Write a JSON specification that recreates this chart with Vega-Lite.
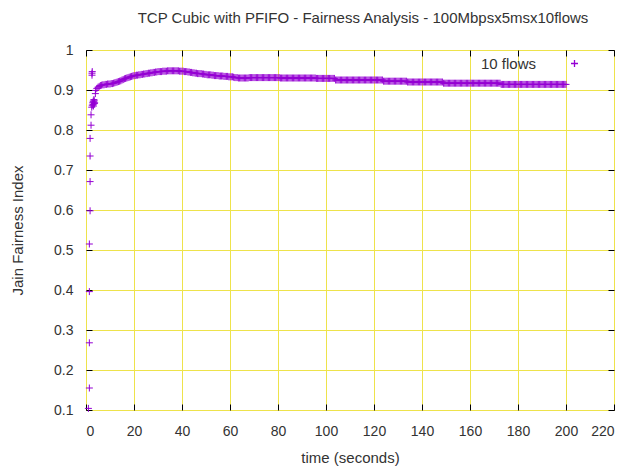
{
  "$schema": "https://vega.github.io/schema/vega-lite/v6.json",
  "width": 528,
  "height": 360,
  "autosize": {"type": "none"},
  "padding": {"left": 86, "top": 50, "right": 15, "bottom": 56},
  "background": "white",
  "config": {
    "font": "Liberation Sans",
    "view": {"stroke": "black", "strokeWidth": 1},
    "axis": {
      "domain": false,
      "labelFontSize": 14,
      "labelColor": "#333333",
      "titleFontSize": 15,
      "titleFontWeight": "normal",
      "titleColor": "#333333",
      "tickColor": "black",
      "tickSize": -6,
      "tickWidth": 1,
      "gridColor": "#eee34b",
      "gridWidth": 1,
      "gridOpacity": 1
    }
  },
  "title": {
    "text": "TCP Cubic with PFIFO - Fairness Analysis - 100Mbpsx5msx10flows",
    "fontSize": 15,
    "fontWeight": "normal",
    "color": "#333333",
    "offset": 17,
    "dx": 13
  },
  "data": {
    "values": [
      {"t": 1.0, "v": 0.104}, {"t": 1.4, "v": 0.155}, {"t": 1.4, "v": 0.268}, {"t": 1.4, "v": 0.396},
      {"t": 1.4, "v": 0.515}, {"t": 1.7, "v": 0.598}, {"t": 1.7, "v": 0.671}, {"t": 1.7, "v": 0.735},
      {"t": 1.7, "v": 0.779}, {"t": 2.1, "v": 0.812}, {"t": 2.1, "v": 0.838}, {"t": 2.4, "v": 0.857},
      {"t": 2.5, "v": 0.937}, {"t": 2.5, "v": 0.942}, {"t": 2.6, "v": 0.946}, {"t": 2.6, "v": 0.862},
      {"t": 2.8, "v": 0.868}, {"t": 3.0, "v": 0.872}, {"t": 3.0, "v": 0.864}, {"t": 3.2, "v": 0.870},
      {"t": 3.3, "v": 0.876}, {"t": 3.5, "v": 0.866}, {"t": 3.1, "v": 0.860}, {"t": 3.4, "v": 0.873},
      {"t": 3.6, "v": 0.868}, {"t": 3.9, "v": 0.891},
      {"t": 4, "v": 0.899}, {"t": 4.5, "v": 0.904}, {"t": 5, "v": 0.907}, {"t": 5.5, "v": 0.909},
      {"t": 6, "v": 0.911}, {"t": 6.5, "v": 0.912}, {"t": 7, "v": 0.913}, {"t": 7.5, "v": 0.913},
      {"t": 8, "v": 0.914}, {"t": 8.5, "v": 0.914}, {"t": 9, "v": 0.915}, {"t": 9.5, "v": 0.915},
      {"t": 10, "v": 0.915}, {"t": 10.5, "v": 0.916}, {"t": 11, "v": 0.916}, {"t": 11.5, "v": 0.917},
      {"t": 12, "v": 0.918}, {"t": 12.5, "v": 0.919}, {"t": 13, "v": 0.920}, {"t": 13.5, "v": 0.921},
      {"t": 14, "v": 0.922}, {"t": 14.5, "v": 0.923}, {"t": 15, "v": 0.925}, {"t": 15.5, "v": 0.926},
      {"t": 16, "v": 0.928}, {"t": 16.5, "v": 0.929}, {"t": 17, "v": 0.930}, {"t": 17.5, "v": 0.931},
      {"t": 18, "v": 0.932}, {"t": 18.5, "v": 0.933}, {"t": 19, "v": 0.934}, {"t": 19.5, "v": 0.935},
      {"t": 20, "v": 0.936}, {"t": 20.5, "v": 0.936}, {"t": 21, "v": 0.937}, {"t": 21.5, "v": 0.937},
      {"t": 22, "v": 0.938}, {"t": 22.5, "v": 0.938}, {"t": 23, "v": 0.939}, {"t": 23.5, "v": 0.939},
      {"t": 24, "v": 0.940}, {"t": 24.5, "v": 0.940}, {"t": 25, "v": 0.941}, {"t": 25.5, "v": 0.941},
      {"t": 26, "v": 0.942}, {"t": 26.5, "v": 0.942}, {"t": 27, "v": 0.943}, {"t": 27.5, "v": 0.943},
      {"t": 28, "v": 0.944}, {"t": 28.5, "v": 0.944}, {"t": 29, "v": 0.945}, {"t": 29.5, "v": 0.945},
      {"t": 30, "v": 0.946}, {"t": 30.5, "v": 0.946}, {"t": 31, "v": 0.946}, {"t": 31.5, "v": 0.946},
      {"t": 32, "v": 0.947}, {"t": 32.5, "v": 0.947}, {"t": 33, "v": 0.947}, {"t": 33.5, "v": 0.947},
      {"t": 34, "v": 0.948}, {"t": 34.5, "v": 0.948}, {"t": 35, "v": 0.948}, {"t": 35.5, "v": 0.948},
      {"t": 36, "v": 0.948}, {"t": 36.5, "v": 0.948}, {"t": 37, "v": 0.948}, {"t": 37.5, "v": 0.948},
      {"t": 38, "v": 0.948}, {"t": 38.5, "v": 0.948}, {"t": 39, "v": 0.947}, {"t": 39.5, "v": 0.947},
      {"t": 40, "v": 0.947}, {"t": 40.5, "v": 0.947}, {"t": 41, "v": 0.946}, {"t": 41.5, "v": 0.946},
      {"t": 42, "v": 0.946}, {"t": 42.5, "v": 0.945}, {"t": 43, "v": 0.945}, {"t": 43.5, "v": 0.944},
      {"t": 44, "v": 0.944}, {"t": 44.5, "v": 0.943}, {"t": 45, "v": 0.943}, {"t": 45.5, "v": 0.942},
      {"t": 46, "v": 0.942}, {"t": 46.5, "v": 0.941}, {"t": 47, "v": 0.941}, {"t": 47.5, "v": 0.941},
      {"t": 48, "v": 0.941}, {"t": 48.5, "v": 0.940}, {"t": 49, "v": 0.940}, {"t": 49.5, "v": 0.939},
      {"t": 50, "v": 0.939}, {"t": 50.5, "v": 0.938}, {"t": 51, "v": 0.938}, {"t": 51.5, "v": 0.938},
      {"t": 52, "v": 0.938}, {"t": 52.5, "v": 0.937}, {"t": 53, "v": 0.937}, {"t": 53.5, "v": 0.936},
      {"t": 54, "v": 0.936}, {"t": 54.5, "v": 0.936}, {"t": 55, "v": 0.936}, {"t": 55.5, "v": 0.935},
      {"t": 56, "v": 0.935}, {"t": 56.5, "v": 0.935}, {"t": 57, "v": 0.935}, {"t": 57.5, "v": 0.934},
      {"t": 58, "v": 0.934}, {"t": 58.5, "v": 0.934}, {"t": 59, "v": 0.934}, {"t": 59.5, "v": 0.933},
      {"t": 60, "v": 0.933}, {"t": 60.5, "v": 0.933}, {"t": 61, "v": 0.933}, {"t": 61.5, "v": 0.932},
      {"t": 62, "v": 0.931}, {"t": 62.5, "v": 0.931}, {"t": 63, "v": 0.931}, {"t": 63.5, "v": 0.930},
      {"t": 64, "v": 0.930}, {"t": 64.5, "v": 0.930}, {"t": 65, "v": 0.930}, {"t": 65.5, "v": 0.930},
      {"t": 66, "v": 0.930}, {"t": 66.5, "v": 0.930}, {"t": 67, "v": 0.930}, {"t": 67.5, "v": 0.930},
      {"t": 68, "v": 0.931}, {"t": 68.5, "v": 0.931}, {"t": 69, "v": 0.931}, {"t": 69.5, "v": 0.931},
      {"t": 70, "v": 0.931}, {"t": 70.5, "v": 0.931}, {"t": 71, "v": 0.931}, {"t": 71.5, "v": 0.931},
      {"t": 72, "v": 0.931}, {"t": 72.5, "v": 0.931}, {"t": 73, "v": 0.931}, {"t": 73.5, "v": 0.931},
      {"t": 74, "v": 0.931}, {"t": 74.5, "v": 0.931}, {"t": 75, "v": 0.931}, {"t": 75.5, "v": 0.931},
      {"t": 76, "v": 0.931}, {"t": 76.5, "v": 0.931}, {"t": 77, "v": 0.931}, {"t": 77.5, "v": 0.931},
      {"t": 78, "v": 0.931}, {"t": 78.5, "v": 0.931}, {"t": 79, "v": 0.931}, {"t": 79.5, "v": 0.931},
      {"t": 80, "v": 0.931}, {"t": 80.5, "v": 0.931}, {"t": 81, "v": 0.930}, {"t": 81.5, "v": 0.930},
      {"t": 82, "v": 0.930}, {"t": 82.5, "v": 0.930}, {"t": 83, "v": 0.930}, {"t": 83.5, "v": 0.930},
      {"t": 84, "v": 0.930}, {"t": 84.5, "v": 0.930}, {"t": 85, "v": 0.930}, {"t": 85.5, "v": 0.930},
      {"t": 86, "v": 0.930}, {"t": 86.5, "v": 0.930}, {"t": 87, "v": 0.930}, {"t": 87.5, "v": 0.930},
      {"t": 88, "v": 0.930}, {"t": 88.5, "v": 0.930}, {"t": 89, "v": 0.930}, {"t": 89.5, "v": 0.930},
      {"t": 90, "v": 0.930}, {"t": 90.5, "v": 0.930}, {"t": 91, "v": 0.930}, {"t": 91.5, "v": 0.930},
      {"t": 92, "v": 0.930}, {"t": 92.5, "v": 0.930}, {"t": 93, "v": 0.930}, {"t": 93.5, "v": 0.930},
      {"t": 94, "v": 0.930}, {"t": 94.5, "v": 0.930}, {"t": 95, "v": 0.930}, {"t": 95.5, "v": 0.930},
      {"t": 96, "v": 0.929}, {"t": 96.5, "v": 0.929}, {"t": 97, "v": 0.929}, {"t": 97.5, "v": 0.929},
      {"t": 98, "v": 0.929}, {"t": 98.5, "v": 0.929}, {"t": 99, "v": 0.929}, {"t": 99.5, "v": 0.929},
      {"t": 100, "v": 0.929}, {"t": 100.5, "v": 0.929}, {"t": 101, "v": 0.929}, {"t": 101.5, "v": 0.929},
      {"t": 102, "v": 0.929}, {"t": 102.5, "v": 0.929}, {"t": 103, "v": 0.929}, {"t": 103.5, "v": 0.929},
      {"t": 104, "v": 0.925}, {"t": 104.5, "v": 0.925}, {"t": 105, "v": 0.925}, {"t": 105.5, "v": 0.925},
      {"t": 106, "v": 0.925}, {"t": 106.5, "v": 0.925}, {"t": 107, "v": 0.925}, {"t": 107.5, "v": 0.925},
      {"t": 108, "v": 0.925}, {"t": 108.5, "v": 0.925}, {"t": 109, "v": 0.925}, {"t": 109.5, "v": 0.925},
      {"t": 110, "v": 0.925}, {"t": 110.5, "v": 0.925}, {"t": 111, "v": 0.925}, {"t": 111.5, "v": 0.925},
      {"t": 112, "v": 0.925}, {"t": 112.5, "v": 0.925}, {"t": 113, "v": 0.925}, {"t": 113.5, "v": 0.925},
      {"t": 114, "v": 0.925}, {"t": 114.5, "v": 0.925}, {"t": 115, "v": 0.925}, {"t": 115.5, "v": 0.925},
      {"t": 116, "v": 0.925}, {"t": 116.5, "v": 0.925}, {"t": 117, "v": 0.925}, {"t": 117.5, "v": 0.925},
      {"t": 118, "v": 0.925}, {"t": 118.5, "v": 0.925}, {"t": 119, "v": 0.925}, {"t": 119.5, "v": 0.925},
      {"t": 120, "v": 0.925}, {"t": 120.5, "v": 0.925}, {"t": 121, "v": 0.925}, {"t": 121.5, "v": 0.925},
      {"t": 122, "v": 0.925}, {"t": 122.5, "v": 0.925}, {"t": 123, "v": 0.925}, {"t": 123.5, "v": 0.925},
      {"t": 124, "v": 0.922}, {"t": 124.5, "v": 0.922}, {"t": 125, "v": 0.922}, {"t": 125.5, "v": 0.922},
      {"t": 126, "v": 0.922}, {"t": 126.5, "v": 0.922}, {"t": 127, "v": 0.922}, {"t": 127.5, "v": 0.922},
      {"t": 128, "v": 0.922}, {"t": 128.5, "v": 0.922}, {"t": 129, "v": 0.922}, {"t": 129.5, "v": 0.922},
      {"t": 130, "v": 0.922}, {"t": 130.5, "v": 0.922}, {"t": 131, "v": 0.922}, {"t": 131.5, "v": 0.922},
      {"t": 132, "v": 0.922}, {"t": 132.5, "v": 0.922}, {"t": 133, "v": 0.922}, {"t": 133.5, "v": 0.922},
      {"t": 134, "v": 0.920}, {"t": 134.5, "v": 0.920}, {"t": 135, "v": 0.920}, {"t": 135.5, "v": 0.920},
      {"t": 136, "v": 0.920}, {"t": 136.5, "v": 0.920}, {"t": 137, "v": 0.920}, {"t": 137.5, "v": 0.920},
      {"t": 138, "v": 0.920}, {"t": 138.5, "v": 0.920}, {"t": 139, "v": 0.920}, {"t": 139.5, "v": 0.920},
      {"t": 140, "v": 0.920}, {"t": 140.5, "v": 0.920}, {"t": 141, "v": 0.920}, {"t": 141.5, "v": 0.920},
      {"t": 142, "v": 0.920}, {"t": 142.5, "v": 0.920}, {"t": 143, "v": 0.920}, {"t": 143.5, "v": 0.920},
      {"t": 144, "v": 0.920}, {"t": 144.5, "v": 0.920}, {"t": 145, "v": 0.920}, {"t": 145.5, "v": 0.920},
      {"t": 146, "v": 0.920}, {"t": 146.5, "v": 0.920}, {"t": 147, "v": 0.920}, {"t": 147.5, "v": 0.920},
      {"t": 148, "v": 0.920}, {"t": 148.5, "v": 0.920}, {"t": 149, "v": 0.917}, {"t": 149.5, "v": 0.917},
      {"t": 150, "v": 0.917}, {"t": 150.5, "v": 0.917}, {"t": 151, "v": 0.917}, {"t": 151.5, "v": 0.917},
      {"t": 152, "v": 0.917}, {"t": 152.5, "v": 0.917}, {"t": 153, "v": 0.917}, {"t": 153.5, "v": 0.917},
      {"t": 154, "v": 0.917}, {"t": 154.5, "v": 0.917}, {"t": 155, "v": 0.917}, {"t": 155.5, "v": 0.917},
      {"t": 156, "v": 0.917}, {"t": 156.5, "v": 0.917}, {"t": 157, "v": 0.917}, {"t": 157.5, "v": 0.917},
      {"t": 158, "v": 0.917}, {"t": 158.5, "v": 0.917}, {"t": 159, "v": 0.917}, {"t": 159.5, "v": 0.917},
      {"t": 160, "v": 0.917}, {"t": 160.5, "v": 0.917}, {"t": 161, "v": 0.917}, {"t": 161.5, "v": 0.917},
      {"t": 162, "v": 0.917}, {"t": 162.5, "v": 0.917}, {"t": 163, "v": 0.917}, {"t": 163.5, "v": 0.917},
      {"t": 164, "v": 0.917}, {"t": 164.5, "v": 0.917}, {"t": 165, "v": 0.917}, {"t": 165.5, "v": 0.917},
      {"t": 166, "v": 0.917}, {"t": 166.5, "v": 0.917}, {"t": 167, "v": 0.917}, {"t": 167.5, "v": 0.917},
      {"t": 168, "v": 0.917}, {"t": 168.5, "v": 0.917}, {"t": 169, "v": 0.917}, {"t": 169.5, "v": 0.917},
      {"t": 170, "v": 0.917}, {"t": 170.5, "v": 0.917}, {"t": 171, "v": 0.917}, {"t": 171.5, "v": 0.917},
      {"t": 172, "v": 0.917}, {"t": 172.5, "v": 0.917}, {"t": 173, "v": 0.914}, {"t": 173.5, "v": 0.914},
      {"t": 174, "v": 0.914}, {"t": 174.5, "v": 0.914}, {"t": 175, "v": 0.914}, {"t": 175.5, "v": 0.914},
      {"t": 176, "v": 0.914}, {"t": 176.5, "v": 0.914}, {"t": 177, "v": 0.914}, {"t": 177.5, "v": 0.914},
      {"t": 178, "v": 0.914}, {"t": 178.5, "v": 0.914}, {"t": 179, "v": 0.914}, {"t": 179.5, "v": 0.914},
      {"t": 180, "v": 0.914}, {"t": 180.5, "v": 0.914}, {"t": 181, "v": 0.914}, {"t": 181.5, "v": 0.914},
      {"t": 182, "v": 0.914}, {"t": 182.5, "v": 0.914}, {"t": 183, "v": 0.914}, {"t": 183.5, "v": 0.914},
      {"t": 184, "v": 0.914}, {"t": 184.5, "v": 0.914}, {"t": 185, "v": 0.914}, {"t": 185.5, "v": 0.914},
      {"t": 186, "v": 0.914}, {"t": 186.5, "v": 0.914}, {"t": 187, "v": 0.914}, {"t": 187.5, "v": 0.914},
      {"t": 188, "v": 0.914}, {"t": 188.5, "v": 0.914}, {"t": 189, "v": 0.914}, {"t": 189.5, "v": 0.914},
      {"t": 190, "v": 0.914}, {"t": 190.5, "v": 0.914}, {"t": 191, "v": 0.914}, {"t": 191.5, "v": 0.914},
      {"t": 192, "v": 0.914}, {"t": 192.5, "v": 0.914}, {"t": 193, "v": 0.914}, {"t": 193.5, "v": 0.914},
      {"t": 194, "v": 0.914}, {"t": 194.5, "v": 0.914}, {"t": 195, "v": 0.914}, {"t": 195.5, "v": 0.914},
      {"t": 196, "v": 0.914}, {"t": 196.5, "v": 0.914}, {"t": 197, "v": 0.914}, {"t": 197.5, "v": 0.914},
      {"t": 198, "v": 0.914}, {"t": 198.5, "v": 0.914}, {"t": 199, "v": 0.914}, {"t": 199.5, "v": 0.914},
      {"t": 200, "v": 0.914}
    ]
  },
  "layer": [
    {
      "mark": {"type": "point", "shape": "M-1,0H1M0,-1V1", "filled": false, "size": 49, "strokeWidth": 1, "opacity": 1},
      "encoding": {
        "x": {
          "field": "t", "type": "quantitative",
          "scale": {"domain": [0, 220], "nice": false},
          "axis": {"title": "time (seconds)", "values": [0, 20, 40, 60, 80, 100, 120, 140, 160, 180, 200, 220], "grid": true, "labelPadding": 20, "titlePadding": 12}
        },
        "y": {
          "field": "v", "type": "quantitative",
          "scale": {"domain": [0.1, 1], "nice": false, "zero": false},
          "axis": {"title": "Jain Fairness Index", "values": [0.1, 0.2, 0.3, 0.4, 0.5, 0.6, 0.7, 0.8, 0.9, 1], "format": "~g", "grid": true, "labelPadding": 19, "titlePadding": 28}
        },
        "color": {
          "datum": "10 flows", "type": "nominal",
          "scale": {"range": ["#9400d3"]},
          "legend": {"orient": "none", "legendX": 481, "legendY": 6, "title": null, "padding": 0, "symbolType": "M-1,0H1M0,-1V1", "symbolSize": 49, "symbolStrokeWidth": 1.3, "symbolStrokeColor": "#9400d3", "symbolOpacity": 1, "labelAlign": "right", "labelOffset": -46, "labelFontSize": 15, "labelColor": "#333333"}
        }
      }
    },
    {
      "mark": {"type": "point", "opacity": 0},
      "encoding": {
        "x": {"field": "t", "type": "quantitative", "axis": {"orient": "top", "title": null, "labels": false, "grid": false, "values": [0, 20, 40, 60, 80, 100, 120, 140, 160, 180, 200, 220]}},
        "y": {"field": "v", "type": "quantitative", "axis": {"orient": "right", "title": null, "labels": false, "grid": false, "values": [0.1, 0.2, 0.3, 0.4, 0.5, 0.6, 0.7, 0.8, 0.9, 1]}}
      }
    }
  ],
  "resolve": {"axis": {"x": "independent", "y": "independent"}}
}
